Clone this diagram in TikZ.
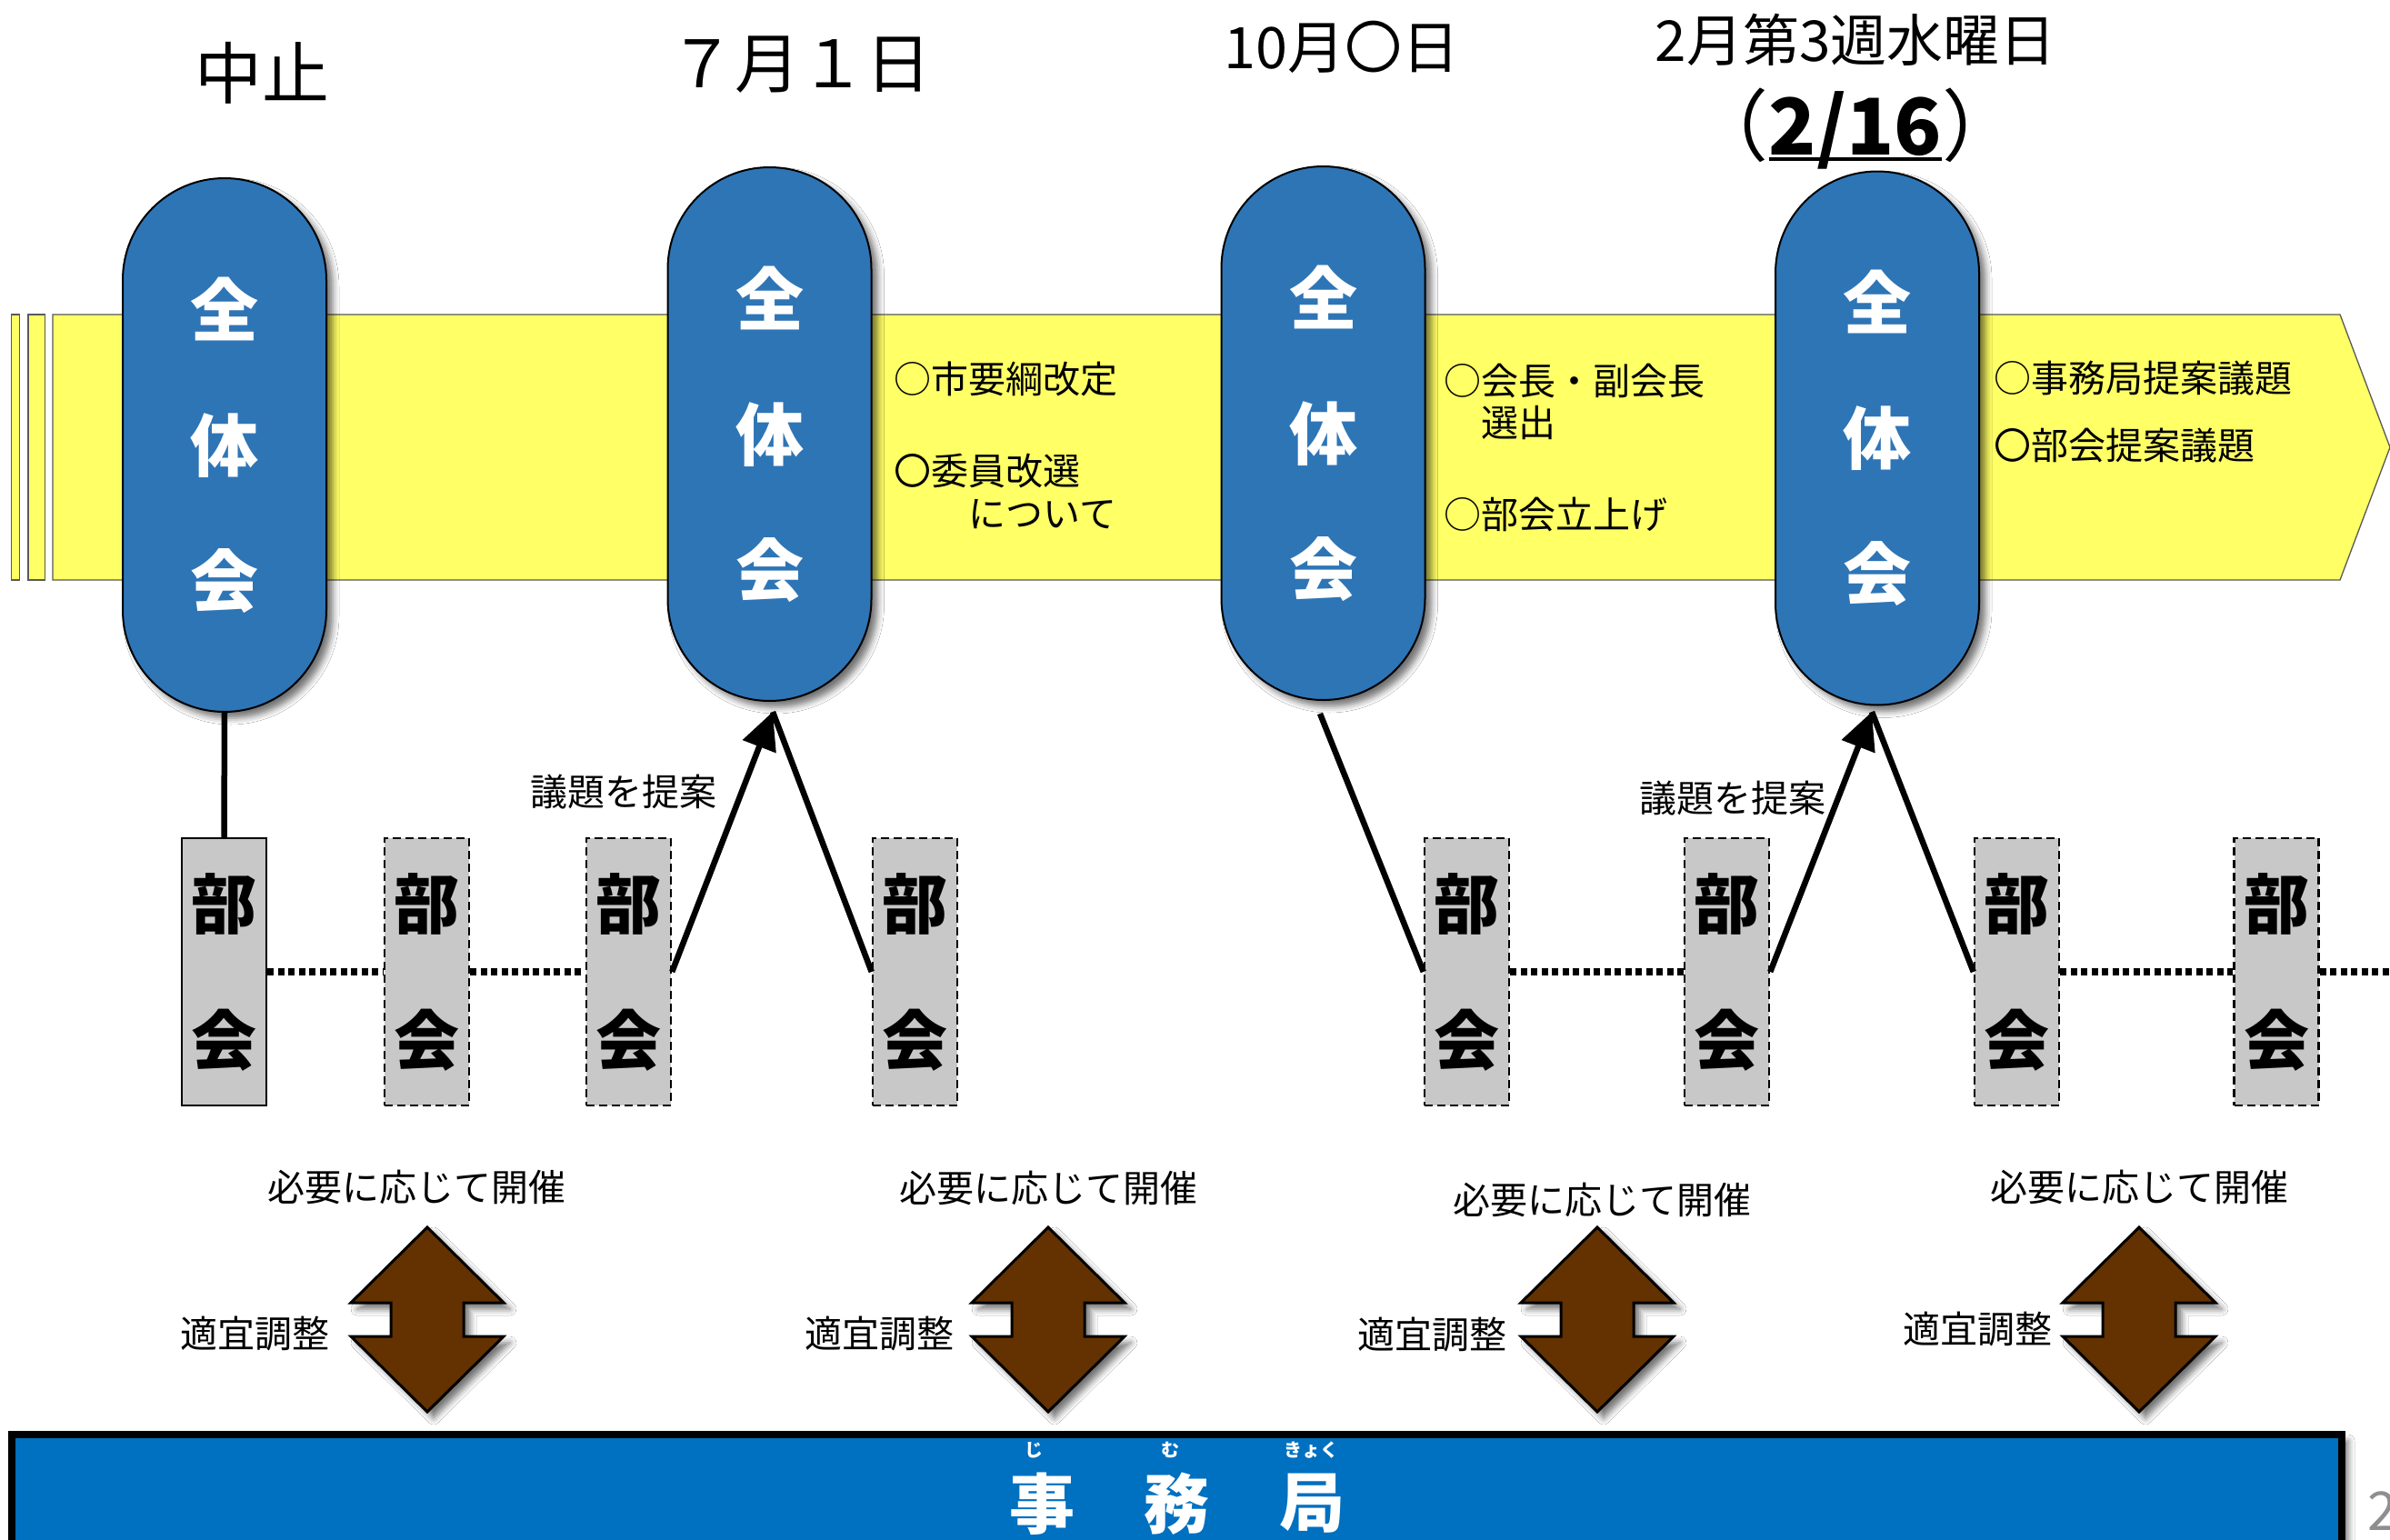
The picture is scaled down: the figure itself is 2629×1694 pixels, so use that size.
\documentclass[tikz,border=0pt]{standalone}
\usepackage{fontspec}
\newfontfamily\jp{Noto Sans CJK JP}
\usetikzlibrary{arrows.meta,shadows.blur}
\definecolor{capblue}{HTML}{2E75B6}
\definecolor{barblue}{HTML}{0070C0}
\definecolor{bandyellow}{HTML}{FFFF66}
\definecolor{arrbrown}{HTML}{633200}
\definecolor{boxgray}{HTML}{C8C8C8}
\definecolor{pagegray}{HTML}{8F8F8F}
\newcommand\myfs[2]{\fontsize{#1}{#2}\selectfont}
\tikzset{
  softshadow/.style={blur shadow={shadow xshift=7pt, shadow yshift=-7pt, shadow blur radius=7pt, shadow opacity=55}},
  capsule/.style={draw=black, line width=2pt, fill=capblue, rounded corners=112pt,
    minimum width=224pt, minimum height=587pt, inner sep=0pt, align=center, text=white,
    font=\jp\bfseries\myfs{75}{149}, softshadow},
  bukai/.style={draw=black, line width=2.5pt, fill=boxgray, minimum width=93pt,
    minimum height=294pt, inner sep=0pt, align=center, font=\jp\bfseries\myfs{72}{150}},
  dashbox/.style={bukai, dash pattern=on 9pt off 5pt},
  lbl/.style={inner sep=0pt, font=\jp\myfs{41}{41}},
  conn/.style={line width=6.5pt},
  dots/.style={line width=8pt, dash pattern=on 7pt off 4.5pt},
  bigtip/.style={-{Triangle[length=41pt,width=38pt]}},
  dblarr/.pic={
    \path[draw=black, line width=3pt, fill=arrbrown, softshadow]
      (0,-101.5) -- (84,-18.5) -- (40,-18.5) -- (40,18.5) -- (84,18.5) -- (0,101.5)
      -- (-84,18.5) -- (-40,18.5) -- (-40,-18.5) -- (-84,-18.5) -- cycle;
  }
}
\begin{document}
\begin{tikzpicture}[x=1pt,y=-1pt]
\useasboundingbox (0,0) rectangle (2629,1694);
\fill[white] (0,0) rectangle (2629,1694);

% timeline band
\path[fill=bandyellow, draw=black!65, line width=1.3pt]
  (58,346) -- (2574,346) -- (2629,492) -- (2574,638) -- (58,638) -- cycle;
\path[fill=bandyellow, draw=black!65, line width=1.3pt] (12.6,346) rectangle (21.8,638);
\path[fill=bandyellow, draw=black!65, line width=1.3pt] (31,346) rectangle (49.5,638);

% headings
\node[inner sep=0pt, font=\jp\myfs{74}{74}] (h1) at (288,80) {中止};
\node[inner sep=0pt, font=\jp\myfs{72}{72}] (h2) at (880,71) {７月１日};
\node[inner sep=0pt, font=\jp\myfs{63}{63}] (h3) at (1476,52) {10月〇日};
\node[inner sep=0pt, font=\jp\myfs{62}{62}] (h4) at (2041,44) {2月第3週水曜日};
\node[inner sep=0pt, anchor=base, font=\jp\bfseries\myfs{86}{86}] (d4d) at (2041,170) {2/16};
\node[inner sep=0pt, anchor=base east, font=\jp\myfs{86}{86}] (d4l) at (d4d.base west) {（};
\node[inner sep=0pt, anchor=base west, font=\jp\myfs{86}{86}] (d4r) at (d4d.base east) {）};
\draw[line width=3.5pt] ([yshift=-5pt]d4d.base west) -- ([yshift=-5pt]d4d.base east);

% plenary capsules
\node[capsule] (c1) at (247,489.5) {全\\体\\会};
\node[capsule] (c2) at (846.5,477.5) {全\\体\\会};
\node[capsule] (c3) at (1455.5,476.5) {全\\体\\会};
\node[capsule] (c4) at (2065,482) {全\\体\\会};

% agenda texts
\node[lbl, anchor=west] (a1) at (983,416.5) {○市要綱改定};
\node[lbl, anchor=west] (a2) at (983,517.5) {〇委員改選};
\node[lbl, anchor=west] (a3) at (983,566) {　　について};
\node[lbl, anchor=west] (a4) at (1588,418.5) {○会長・副会長};
\node[lbl, anchor=west] (a5) at (1588,465.5) {　選出};
\node[lbl, anchor=west] (a6) at (1588,565.5) {○部会立上げ};
\node[lbl, anchor=west] (a7) at (2193,416.5) {○事務局提案議題};
\node[lbl, anchor=west] (a8) at (2193,490.5) {〇部会提案議題};

% sub-committee boxes
\node[bukai] (b1) at (246.5,1069) {部\\会};
\node[dashbox] (b2) at (469.5,1069) {部\\会};
\node[dashbox] (b3) at (691.5,1069) {部\\会};
\node[dashbox] (b4) at (1006.5,1069) {部\\会};
\node[dashbox] (b5) at (1613.5,1069) {部\\会};
\node[dashbox] (b6) at (1899.5,1069) {部\\会};
\node[dashbox] (b7) at (2218.5,1069) {部\\会};
\node[dashbox] (b8) at (2504,1069) {部\\会};

% connectors
\coordinate (t2) at (850,783);
\coordinate (s3) at (1452,785);
\coordinate (t4) at (2059,783);
\coordinate (eR) at (2640,1069);
\draw[conn] (c1.south) -- (b1.north);
\draw[dots] (b1.east) -- (b2.west);
\draw[dots] (b2.east) -- (b3.west);
\draw[dots] (b5.east) -- (b6.west);
\draw[dots] (b7.east) -- (b8.west);
\draw[dots] (b8.east) -- (eR);
\draw[conn, bigtip] (b3.east) -- (t2);
\draw[conn] (t2) -- (b4.west);
\draw[conn] (s3) -- (b5.west);
\draw[conn, bigtip] (b6.east) -- (t4);
\draw[conn] (t4) -- (b7.west);

\node[lbl] (p1) at (686,871) {議題を提案};
\node[lbl] (p2) at (1906,878) {議題を提案};

% as needed
\node[lbl] (n1) at (458,1306) {必要に応じて開催};
\node[lbl] (n2) at (1153,1307) {必要に応じて開催};
\node[lbl] (n3) at (1762,1320) {必要に応じて開催};
\node[lbl] (n4) at (2353,1306) {必要に応じて開催};

% double arrows
\pic (da1) at (470,1451.5) {dblarr};
\pic (da2) at (1153,1451.5) {dblarr};
\pic (da3) at (1757,1451.5) {dblarr};
\pic (da4) at (2353,1451.5) {dblarr};
\node[lbl] (q1) at (280,1467) {適宜調整};
\node[lbl] (q2) at (967,1467) {適宜調整};
\node[lbl] (q3) at (1575,1468) {適宜調整};
\node[lbl] (q4) at (2175,1462) {適宜調整};

% secretariat bar
\path[draw=black, line width=7.5pt, fill=barblue, softshadow] (13,1578) rectangle (2576,1770);
\node[inner sep=0pt, text=white, font=\jp\bfseries\myfs{72}{72}] (j1) at (1146,1654) {事};
\node[inner sep=0pt, text=white, font=\jp\bfseries\myfs{72}{72}] (j2) at (1294,1654) {務};
\node[inner sep=0pt, text=white, font=\jp\bfseries\myfs{72}{72}] (j3) at (1443,1654) {局};
\node[inner sep=0pt, text=white, font=\jp\bfseries\myfs{20}{20}] (r1) at (1137,1595) {じ};
\node[inner sep=0pt, text=white, font=\jp\bfseries\myfs{20}{20}] (r2) at (1287,1595) {む};
\node[inner sep=0pt, text=white, font=\jp\bfseries\myfs{20}{20}] (r3) at (1442,1595) {きょく};

% page number
\node[inner sep=0pt, anchor=west, text=pagegray, font=\jp\myfs{59}{59}] (pg) at (2604,1662) {2};
\end{tikzpicture}
\end{document}
